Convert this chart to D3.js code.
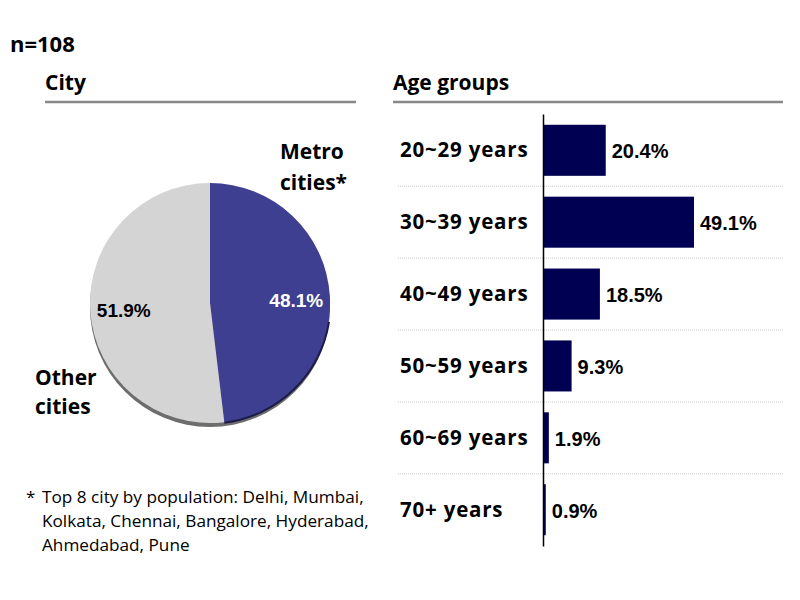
<!DOCTYPE html>
<html>
<head>
<meta charset="utf-8">
<script src="https://cdn.jsdelivr.net/npm/d3@7"></script>
<style>
  body { margin: 0; background: #fff; }
  text { font-family: "Open Sans", Lato, sans-serif; }
  .narrow { font-family: "Liberation Sans Narrow", "Liberation Sans", Arial, sans-serif; font-stretch: condensed; }
</style>
</head>
<body>
<svg id="board" width="800" height="600"></svg>
<script>
// city split
city_names = ['Metro cities*', 'Other cities'];
city_values = [48.1, 51.9];
city_colors = ['#3f3f91', '#d4d4d4'];

// age groups
age_groups = ['20~29 years', '30~39 years', '40~49 years', '50~59 years', '60~69 years', '70+ years'];
age_values = [20.4, 49.1, 18.5, 9.3, 1.9, 0.9];

footnote = ['Top 8 city by population: Delhi, Mumbai,',
            'Kolkata, Chennai, Bangalore, Hyderabad,',
            'Ahmedabad, Pune'];

board = d3.select('#board');

board.append('text').attr('x', 10).attr('y', 52)
    .attr('font-size', 22).attr('font-weight', 'bold').text('n=108');

// section headers
function header(x1, x2, label){
    board.append('text').attr('x', x1).attr('y', 90)
        .attr('font-size', 21).attr('font-weight', 'bold').text(label);
    board.append('line').attr('x1', x1).attr('x2', x2)
        .attr('y1', 102).attr('y2', 102)
        .attr('stroke', '#888').attr('stroke-width', 2.5);
}
header(45, 356, 'City');
header(393, 783, 'Age groups');

// ---- pie ----
cx = 210; cy = 303; r = 120;
pie_g = board.append('g').attr('transform', `translate(${cx},${cy})`);

pie_g.append('circle').attr('cx', 0).attr('cy', 4).attr('r', r)
    .attr('fill', '#6d6d6d');

pie = d3.pie().sort(null)(city_values);
arc = d3.arc().innerRadius(0).outerRadius(r);

pie_g.selectAll('path.slice').data(pie).enter().append('path')
    .attr('class', 'slice')
    .attr('d', arc)
    .attr('fill', (d, i) => city_colors[i]);

// darker rim on the metro side bottom
pie_g.append('path')
    .attr('d', d3.arc().innerRadius(r - 0.5).outerRadius(r + 1.5)
        .startAngle(Math.PI * 0.55).endAngle(pie[0].endAngle)())
    .attr('fill', '#1c1c4a');

label_arc = d3.arc().innerRadius(r * 0.72).outerRadius(r * 0.72);
pie_g.selectAll('text.pct').data(pie).enter().append('text')
    .attr('class', 'pct narrow')
    .attr('transform', d => {
        c = label_arc.centroid(d);
        return `translate(${c[0]},${c[1] + 9})`;
    })
    .attr('text-anchor', 'middle')
    .attr('font-size', 19).attr('font-weight', 'bold')
    .attr('fill', (d, i) => i === 0 ? '#fff' : '#000')
    .text(d => d.value.toFixed(1) + '%');

function two_lines(x, y, gap, label){
    words = label.split(' ');
    t = board.append('text').attr('font-size', 21).attr('font-weight', 'bold');
    words.forEach(function(w, k){
        t.append('tspan').attr('x', x).attr('y', y + k * gap).text(w);
    });
}
two_lines(280, 159, 31, city_names[0]);
two_lines(35, 385, 29, city_names[1]);

// footnote
board.append('text').attr('x', 26).attr('y', 503).attr('font-size', 17).text('*');
footnote.forEach(function(line, k){
    board.append('text').attr('x', 42).attr('y', 503 + k * 24)
        .attr('font-size', 17.2).text(line);
});

// ---- bars ----
x0 = 543;
x = d3.scaleLinear().domain([0, 49.1]).range([x0, 694]);
y = d3.scaleBand().domain(age_groups).range([114, 546]).paddingInner(0.29).paddingOuter(0.15);
step = y.step();

bar_g = board.append('g');

// dotted separators
age_groups.slice(1).forEach(function(g){
    yy = y(g) - (step - y.bandwidth()) / 2;
    bar_g.append('line').attr('x1', 398).attr('x2', 783)
        .attr('y1', yy).attr('y2', yy)
        .attr('stroke', '#cfcfcf').attr('stroke-dasharray', '1,1');
});

bar_g.selectAll('rect').data(age_values).enter().append('rect')
    .attr('x', x0)
    .attr('y', (d, i) => y(age_groups[i]))
    .attr('width', d => x(d) - x0)
    .attr('height', y.bandwidth())
    .attr('fill', '#000052');

bar_g.selectAll('text.val').data(age_values).enter().append('text')
    .attr('class', 'val narrow')
    .attr('x', d => x(d) + 6)
    .attr('y', (d, i) => y(age_groups[i]) + y.bandwidth() / 2 + 8)
    .attr('font-size', 20).attr('font-weight', 'bold')
    .text(d => d.toFixed(1) + '%');

bar_g.selectAll('text.cat').data(age_groups).enter().append('text')
    .attr('x', 400)
    .attr('y', d => y(d) + y.bandwidth() / 2 + 7)
    .attr('font-size', 20.5).attr('font-weight', 'bold')
    .attr('letter-spacing', 0.8)
    .text(d => d);

axis = d3.axisLeft(y).tickSize(0).tickFormat('');
bar_g.append('g').attr('transform', `translate(${x0},0)`).call(axis)
    .select('.domain').attr('stroke', '#000').attr('stroke-width', 1.5);
</script>
</body>
</html>
